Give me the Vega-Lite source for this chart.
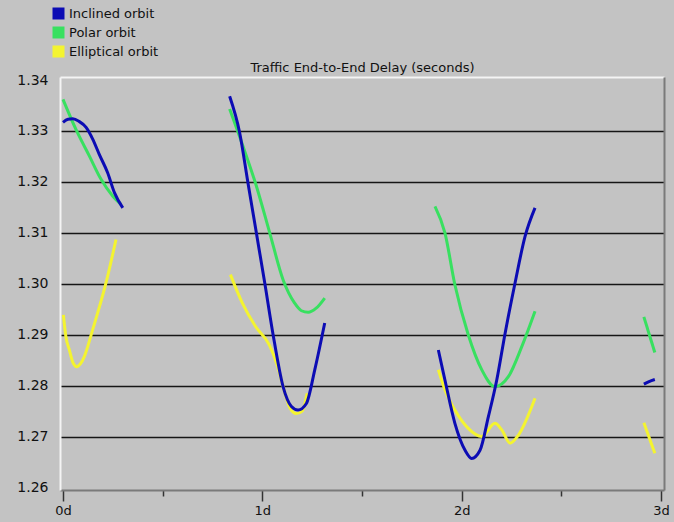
{
  "$schema": "https://vega.github.io/schema/vega-lite/v6.json",
  "width": 604,
  "height": 413,
  "autosize": {"type": "none"},
  "padding": {"left": 60, "top": 77, "right": 10, "bottom": 32},
  "background": "#c3c3c3",
  "config": {
    "view": {"fill": "#c3c3c3", "stroke": null},
    "font": "DejaVu Sans"
  },
  "data": {
    "values": [
      {"series": "Inclined orbit", "seg": 1, "day": 0.0, "delay": 1.3317},
      {"series": "Inclined orbit", "seg": 1, "day": 0.025, "delay": 1.3323},
      {"series": "Inclined orbit", "seg": 1, "day": 0.049, "delay": 1.3324},
      {"series": "Inclined orbit", "seg": 1, "day": 0.08, "delay": 1.3319},
      {"series": "Inclined orbit", "seg": 1, "day": 0.116, "delay": 1.3307},
      {"series": "Inclined orbit", "seg": 1, "day": 0.149, "delay": 1.3284},
      {"series": "Inclined orbit", "seg": 1, "day": 0.182, "delay": 1.3254},
      {"series": "Inclined orbit", "seg": 1, "day": 0.224, "delay": 1.3218},
      {"series": "Inclined orbit", "seg": 1, "day": 0.258, "delay": 1.3179},
      {"series": "Inclined orbit", "seg": 1, "day": 0.3, "delay": 1.3149},
      {"series": "Inclined orbit", "seg": 2, "day": 0.836, "delay": 1.3368},
      {"series": "Inclined orbit", "seg": 2, "day": 0.886, "delay": 1.3297},
      {"series": "Inclined orbit", "seg": 2, "day": 0.928, "delay": 1.3198},
      {"series": "Inclined orbit", "seg": 2, "day": 0.97, "delay": 1.31},
      {"series": "Inclined orbit", "seg": 2, "day": 1.012, "delay": 1.3002},
      {"series": "Inclined orbit", "seg": 2, "day": 1.054, "delay": 1.29},
      {"series": "Inclined orbit", "seg": 2, "day": 1.104, "delay": 1.2798},
      {"series": "Inclined orbit", "seg": 2, "day": 1.146, "delay": 1.2759},
      {"series": "Inclined orbit", "seg": 2, "day": 1.179, "delay": 1.2752},
      {"series": "Inclined orbit", "seg": 2, "day": 1.221, "delay": 1.2765},
      {"series": "Inclined orbit", "seg": 2, "day": 1.263, "delay": 1.2831},
      {"series": "Inclined orbit", "seg": 2, "day": 1.313, "delay": 1.2923},
      {"series": "Inclined orbit", "seg": 3, "day": 1.883, "delay": 1.287},
      {"series": "Inclined orbit", "seg": 3, "day": 1.916, "delay": 1.2811},
      {"series": "Inclined orbit", "seg": 3, "day": 1.966, "delay": 1.2726},
      {"series": "Inclined orbit", "seg": 3, "day": 2.017, "delay": 1.2673},
      {"series": "Inclined orbit", "seg": 3, "day": 2.05, "delay": 1.2657},
      {"series": "Inclined orbit", "seg": 3, "day": 2.092, "delay": 1.2673},
      {"series": "Inclined orbit", "seg": 3, "day": 2.134, "delay": 1.2739},
      {"series": "Inclined orbit", "seg": 3, "day": 2.176, "delay": 1.2811},
      {"series": "Inclined orbit", "seg": 3, "day": 2.218, "delay": 1.2903},
      {"series": "Inclined orbit", "seg": 3, "day": 2.268, "delay": 1.3002},
      {"series": "Inclined orbit", "seg": 3, "day": 2.318, "delay": 1.3093},
      {"series": "Inclined orbit", "seg": 3, "day": 2.368, "delay": 1.3149},
      {"series": "Inclined orbit", "seg": 4, "day": 2.914, "delay": 1.2803},
      {"series": "Inclined orbit", "seg": 4, "day": 2.94, "delay": 1.2808},
      {"series": "Inclined orbit", "seg": 4, "day": 2.969, "delay": 1.2812},

      {"series": "Polar orbit", "seg": 1, "day": 0.0, "delay": 1.3362},
      {"series": "Polar orbit", "seg": 1, "day": 0.065, "delay": 1.3303},
      {"series": "Polar orbit", "seg": 1, "day": 0.132, "delay": 1.3251},
      {"series": "Polar orbit", "seg": 1, "day": 0.191, "delay": 1.3205},
      {"series": "Polar orbit", "seg": 1, "day": 0.25, "delay": 1.3172},
      {"series": "Polar orbit", "seg": 1, "day": 0.291, "delay": 1.3156},
      {"series": "Polar orbit", "seg": 2, "day": 0.836, "delay": 1.3343},
      {"series": "Polar orbit", "seg": 2, "day": 0.903, "delay": 1.327},
      {"series": "Polar orbit", "seg": 2, "day": 0.97, "delay": 1.3192},
      {"series": "Polar orbit", "seg": 2, "day": 1.037, "delay": 1.31},
      {"series": "Polar orbit", "seg": 2, "day": 1.104, "delay": 1.3008},
      {"series": "Polar orbit", "seg": 2, "day": 1.162, "delay": 1.2962},
      {"series": "Polar orbit", "seg": 2, "day": 1.196, "delay": 1.2947},
      {"series": "Polar orbit", "seg": 2, "day": 1.23, "delay": 1.2944},
      {"series": "Polar orbit", "seg": 2, "day": 1.27, "delay": 1.2952},
      {"series": "Polar orbit", "seg": 2, "day": 1.313, "delay": 1.2972},
      {"series": "Polar orbit", "seg": 3, "day": 1.866, "delay": 1.3152},
      {"series": "Polar orbit", "seg": 3, "day": 1.916, "delay": 1.31},
      {"series": "Polar orbit", "seg": 3, "day": 1.966, "delay": 1.2998},
      {"series": "Polar orbit", "seg": 3, "day": 2.033, "delay": 1.29},
      {"series": "Polar orbit", "seg": 3, "day": 2.101, "delay": 1.2831},
      {"series": "Polar orbit", "seg": 3, "day": 2.167, "delay": 1.2798},
      {"series": "Polar orbit", "seg": 3, "day": 2.235, "delay": 1.2818},
      {"series": "Polar orbit", "seg": 3, "day": 2.302, "delay": 1.2877},
      {"series": "Polar orbit", "seg": 3, "day": 2.368, "delay": 1.2946},
      {"series": "Polar orbit", "seg": 4, "day": 2.914, "delay": 1.2935},
      {"series": "Polar orbit", "seg": 4, "day": 2.969, "delay": 1.2865},

      {"series": "Elliptical orbit", "seg": 1, "day": 0.002, "delay": 1.2939},
      {"series": "Elliptical orbit", "seg": 1, "day": 0.015, "delay": 1.2895},
      {"series": "Elliptical orbit", "seg": 1, "day": 0.032, "delay": 1.287},
      {"series": "Elliptical orbit", "seg": 1, "day": 0.05, "delay": 1.2845},
      {"series": "Elliptical orbit", "seg": 1, "day": 0.069, "delay": 1.2837},
      {"series": "Elliptical orbit", "seg": 1, "day": 0.088, "delay": 1.2843},
      {"series": "Elliptical orbit", "seg": 1, "day": 0.107, "delay": 1.2857},
      {"series": "Elliptical orbit", "seg": 1, "day": 0.149, "delay": 1.291},
      {"series": "Elliptical orbit", "seg": 1, "day": 0.216, "delay": 1.3002},
      {"series": "Elliptical orbit", "seg": 1, "day": 0.266, "delay": 1.3087},
      {"series": "Elliptical orbit", "seg": 2, "day": 0.84, "delay": 1.3018},
      {"series": "Elliptical orbit", "seg": 2, "day": 0.9, "delay": 1.2962},
      {"series": "Elliptical orbit", "seg": 2, "day": 0.966, "delay": 1.2916},
      {"series": "Elliptical orbit", "seg": 2, "day": 1.035, "delay": 1.288},
      {"series": "Elliptical orbit", "seg": 2, "day": 1.075, "delay": 1.284},
      {"series": "Elliptical orbit", "seg": 2, "day": 1.11, "delay": 1.279},
      {"series": "Elliptical orbit", "seg": 2, "day": 1.14, "delay": 1.2755},
      {"series": "Elliptical orbit", "seg": 2, "day": 1.17, "delay": 1.2745},
      {"series": "Elliptical orbit", "seg": 2, "day": 1.2, "delay": 1.275},
      {"series": "Elliptical orbit", "seg": 2, "day": 1.225, "delay": 1.2785},
      {"series": "Elliptical orbit", "seg": 3, "day": 1.883, "delay": 1.2831},
      {"series": "Elliptical orbit", "seg": 3, "day": 1.916, "delay": 1.2792},
      {"series": "Elliptical orbit", "seg": 3, "day": 1.966, "delay": 1.2752},
      {"series": "Elliptical orbit", "seg": 3, "day": 2.033, "delay": 1.2716},
      {"series": "Elliptical orbit", "seg": 3, "day": 2.101, "delay": 1.27},
      {"series": "Elliptical orbit", "seg": 3, "day": 2.167, "delay": 1.2726},
      {"series": "Elliptical orbit", "seg": 3, "day": 2.201, "delay": 1.2713},
      {"series": "Elliptical orbit", "seg": 3, "day": 2.243, "delay": 1.2687},
      {"series": "Elliptical orbit", "seg": 3, "day": 2.285, "delay": 1.2703},
      {"series": "Elliptical orbit", "seg": 3, "day": 2.368, "delay": 1.2775},
      {"series": "Elliptical orbit", "seg": 4, "day": 2.914, "delay": 1.2727},
      {"series": "Elliptical orbit", "seg": 4, "day": 2.969, "delay": 1.2667}
    ]
  },
  "encoding": {
    "x": {
      "field": "day",
      "type": "quantitative",
      "scale": {"domain": [-0.015, 3.015], "nice": false, "zero": false},
      "axis": null
    },
    "y": {
      "field": "delay",
      "type": "quantitative",
      "scale": {"domain": [1.2595, 1.3406], "nice": false, "zero": false},
      "axis": null
    },
    "color": {
      "field": "series",
      "type": "nominal",
      "scale": {
        "domain": ["Inclined orbit", "Polar orbit", "Elliptical orbit"],
        "range": ["#0c0cb4", "#38e060", "#f4f430"]
      },
      "legend": {
        "orient": "none",
        "legendX": -8,
        "legendY": -70,
        "title": null,
        "symbolType": "square",
        "symbolSize": 144,
        "symbolStrokeWidth": 0,
        "symbolOpacity": 1,
        "labelFontSize": 13,
        "labelFont": "DejaVu Sans",
        "labelColor": "#111111",
        "labelOffset": 4,
        "rowPadding": 5,
        "encode": {
          "symbols": {
            "update": {
              "fill": {"scale": "color", "field": "value"},
              "fillOpacity": {"value": 1},
              "strokeWidth": {"value": 0}
            }
          }
        }
      }
    },
    "detail": {"field": "seg", "type": "nominal"}
  },
  "layer": [
    {
      "transform": [{"filter": "datum.series === 'Elliptical orbit'"}],
      "mark": {"type": "line", "strokeWidth": 3, "interpolate": "monotone"},
      "encoding": {
        "x": {
          "field": "day", "type": "quantitative",
          "axis": {"orient": "top", "title": "Traffic End-to-End Delay (seconds)", "titleFont": "DejaVu Sans", "titleFontSize": 13, "titleFontWeight": "normal", "titleColor": "#111111", "titlePadding": 3, "labels": false, "ticks": false, "grid": false, "domainColor": "#f4f4f4", "domainWidth": 2}
        },
        "y": {
          "field": "delay", "type": "quantitative",
          "axis": {"orient": "right", "title": null, "labels": false, "ticks": false, "grid": false, "domainColor": "#7a7a7a", "domainWidth": 2}
        }
      }
    },
    {
      "transform": [{"filter": "datum.series === 'Polar orbit'"}],
      "mark": {"type": "line", "strokeWidth": 3, "interpolate": "monotone"}
    },
    {
      "transform": [{"filter": "datum.series === 'Inclined orbit'"}],
      "mark": {"type": "line", "strokeWidth": 3, "interpolate": "monotone"},
      "encoding": {
        "x": {
          "field": "day", "type": "quantitative",
          "axis": {
            "orient": "bottom",
            "title": null,
            "values": [0, 0.5, 1, 1.5, 2, 2.5, 3],
            "labelExpr": "datum.value % 1 === 0 ? datum.value + 'd' : ''",
            "labelFont": "DejaVu Sans",
            "labelFontSize": 13,
            "labelColor": "#111111",
            "labelPadding": 3,
            "tickColor": "#333333",
            "tickWidth": 1.5,
            "tickSize": {"condition": {"test": "datum.value % 1 === 0", "value": 11}, "value": 6},
            "domainColor": "#7a7a7a",
            "domainWidth": 2,
            "grid": false
          }
        },
        "y": {
          "field": "delay", "type": "quantitative",
          "axis": {
            "orient": "left",
            "title": null,
            "values": [1.26, 1.27, 1.28, 1.29, 1.3, 1.31, 1.32, 1.33, 1.34],
            "format": ".2f",
            "labelFont": "DejaVu Sans",
            "labelFontSize": 14,
            "labelColor": "#111111",
            "labelPadding": 12,
            "ticks": false,
            "domainColor": "#f4f4f4",
            "domainWidth": 2,
            "grid": true,
            "gridColor": "#151515",
            "gridWidth": 1.5,
            "gridOpacity": {"condition": {"test": "datum.value > 1.265 && datum.value < 1.335", "value": 1}, "value": 0}
          }
        }
      }
    }
  ],
  "resolve": {"axis": {"x": "independent", "y": "independent"}}
}
